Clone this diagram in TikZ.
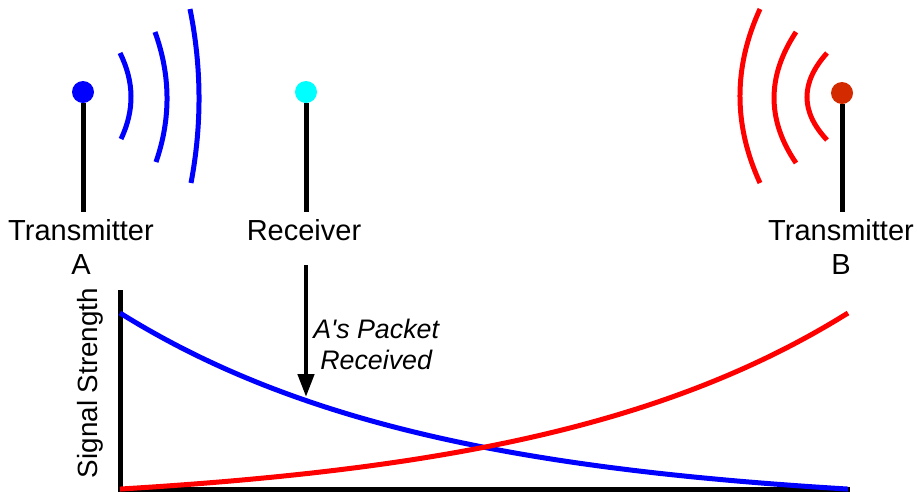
\documentclass[tikz,border=0pt]{standalone}
\usepackage{fontspec}
\setmainfont{Liberation Sans}
\usetikzlibrary{arrows.meta}
\definecolor{dotred}{HTML}{D42A00}
\definecolor{dotcyan}{HTML}{00FFFF}
\definecolor{waveblue}{HTML}{0000FF}
\definecolor{wavered}{HTML}{FF0000}
\tikzset{
  antenna/.style={line width=5pt,black},
  txdot/.style={circle,inner sep=0pt,minimum size=22pt},
  lbl/.style={font=\fontsize{29}{34}\selectfont,align=center,inner sep=0pt,anchor=north},
  wave/.style={line width=5pt},
  axis/.style={line width=5pt,black},
  curve/.style={line width=5pt,smooth,samples=80}
}

\begin{document}
\begin{tikzpicture}[x=1pt,y=-1pt,auto]
      \useasboundingbox (0,0) rectangle (917,491);
      %\draw [help lines,step=50] (0,0) grid (917,491);
      \node[txdot,fill=waveblue] (dotA) at (83,92) {};
      \node[txdot,fill=dotcyan] (dotR) at (306,92) {};
      \node[txdot,fill=dotred] (dotB) at (842,93) {};
      \coordinate (footA) at (83,212);
      \coordinate (footR) at (306,212);
      \coordinate (footB) at (842,212);
      \node[lbl] (txA) at (81,219) {Transmitter\\A};
      \node[lbl] (rx) at (304,219) {Receiver};
      \node[lbl] (txB) at (841,219) {Transmitter\\B};

      \draw[antenna] (dotA) -- (footA);
      \draw[antenna] (dotR) -- (footR);
      \draw[antenna] (dotB) -- (footB);

      % waves of A and B
      \draw[wave,waveblue] (120,53) .. controls (134.3,81.7) and (134.7,110.3) .. (121,139);
      \draw[wave,waveblue] (155,32) .. controls (170.7,75.3) and (171,118.7) .. (156,162);
      \draw[wave,waveblue] (190,9) .. controls (201.7,67) and (202,125) .. (191,183);
      \draw[wave,wavered] (827,53) .. controls (800.3,82.7) and (800.3,111.7) .. (827,140);
      \draw[wave,wavered] (796,32) .. controls (766.7,76.3) and (766.7,120) .. (796,163);
      \draw[wave,wavered] (760,9) .. controls (733.3,67) and (733.3,125) .. (760,183);

      % signal strength plot
      \coordinate (ytop) at (120,290);
      \coordinate (origin) at (120,489);
      \coordinate (xend) at (850,489);
      \node[rotate=90,inner sep=0pt,font=\fontsize{27.8}{30}\selectfont] (ylabel) at (90,383) {Signal Strength};
      \draw[axis] (ytop) -- (origin) -- (xend);
      \draw[curve,waveblue] plot[domain=0:728] ({120+\x},{489-176*(exp(-0.0032*\x)-0.0973)/0.9027});
      \draw[curve,wavered] plot[domain=0:728] ({120+\x},{489-176*(exp(-0.0032*(728-\x))-0.0973)/0.9027});

      \coordinate (rxarrow) at (306,265);
      \coordinate (pkt) at (306,397);
      \draw[-{Triangle[length=23pt,width=16pt]},line width=4.5pt] (rxarrow) to node[pos=0.6,inner sep=5pt,align=center,font=\fontsize{26.8}{31}\selectfont\itshape] {A\textquotesingle s Packet\\Received} (pkt);
    \end{tikzpicture}
\end{document}
